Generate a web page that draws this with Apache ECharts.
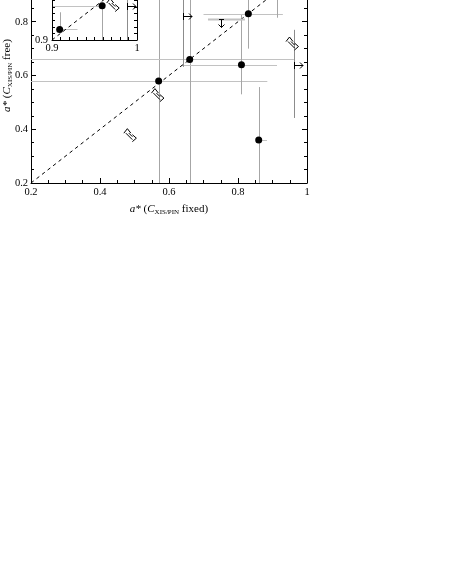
<!DOCTYPE html>
<html><head><meta charset="utf-8">
<script src="https://cdn.jsdelivr.net/npm/echarts@6/dist/echarts.min.js"></script>
<style>html,body{margin:0;padding:0;background:#fff}#c{width:450px;height:583px}</style>
</head><body><div id="c"></div>
<script>
// ---- data (main panel) ----
const mainPoints = [[0.57,0.58],[0.66,0.66],[0.81,0.64],[0.83,0.83],[0.86,0.36]];
const mainXErr   = [[0.20,0.885],[0.20,0.962],[0.635,0.913],[0.70,0.93],[0.855,0.884]];
const mainYErr   = [[0.20,1.00],[0.20,1.00],[0.53,0.826],[0.70,0.96],[0.20,0.557]];
const mainExtraVErr = [[0.913,0.815,1.00]];
const mainRightLimits = [[0.64,0.822],[0.962,0.64]];
const mainRightLimitYErr = [[0.632,1.00],[0.442,0.77]];
const mainDownLimits = [[0.751,0.811]];
const mainDownLimitXErr = [[0.713,0.82]];
const mainDiagLimits = [[0.488,0.378],[0.568,0.527],[0.958,0.719]];
const mainTicks = [0.2,0.4,0.6,0.8,1.0];
const diagLine = [[0.2,0.2],[1.0,1.0]];
// ---- data (inset) ----
const insetPoints = [[0.909,0.916],[0.959,0.952]];
const insetXErr   = [[0.909,0.930],[0.900,0.959]];
const insetYErr   = [[0.916,0.942],[0.900,0.952]];
const insetRightLimits = [[0.988,0.952]];
const insetRightLimitYErr = [[0.900,1.000]];
const insetDiagLimits = [[0.972,0.953]];
const insetTicks = [0.9,1.0];
const insetDiagLine = [[0.9,0.9],[1.0,1.0]];

const FONT = 'Liberation Serif';
const H_COLOR = '#c2c2c2', V_COLOR = '#a6a6a6', L_COLOR = '#8c8c8c';
const px = v => Math.round(v) + 0.5;

function errRender(params, api) {
  const c = api.coord([api.value(0), api.value(1)]);
  const xl = api.coord([api.value(2), api.value(1)]);
  const xh = api.coord([api.value(3), api.value(1)]);
  const yl = api.coord([api.value(0), api.value(4)]);
  const yh = api.coord([api.value(0), api.value(5)]);
  return {type:'group', children:[
    {type:'line', shape:{x1:xl[0],y1:px(c[1]),x2:xh[0],y2:px(c[1])}, style:{stroke:H_COLOR,lineWidth:1}},
    {type:'line', shape:{x1:px(c[0]),y1:yl[1],x2:px(c[0]),y2:yh[1]}, style:{stroke:V_COLOR,lineWidth:1}}
  ]};
}
function vSegRender(params, api) {
  const a = api.coord([api.value(0), api.value(1)]);
  const b = api.coord([api.value(0), api.value(2)]);
  return {type:'line', shape:{x1:px(a[0]),y1:a[1],x2:px(a[0]),y2:b[1]}, style:{stroke:V_COLOR,lineWidth:1}};
}
function rightLimRender(params, api) {
  const c = api.coord([api.value(0), api.value(1)]);
  const yl = api.coord([api.value(0), api.value(2)]);
  const yh = api.coord([api.value(0), api.value(3)]);
  const x = px(c[0]), y = px(c[1]);
  const s = {stroke:'#000', lineWidth:1, fill:null};
  return {type:'group', children:[
    {type:'line', shape:{x1:x,y1:yl[1],x2:x,y2:yh[1]}, style:{stroke:L_COLOR,lineWidth:1}},
    {type:'line', shape:{x1:x,y1:y-3.5,x2:x,y2:y+3.5}, style:s},
    {type:'line', shape:{x1:x,y1:y,x2:x+8.5,y2:y}, style:s},
    {type:'polyline', shape:{points:[[x+5.5,y-3],[x+8.5,y],[x+5.5,y+3]]}, style:s}
  ]};
}
function downLimRender(params, api) {
  const c = api.coord([api.value(0), api.value(1)]);
  const xl = api.coord([api.value(2), api.value(1)]);
  const xh = api.coord([api.value(3), api.value(1)]);
  const x = px(c[0]), y = px(c[1]);
  const s = {stroke:'#000', lineWidth:1, fill:null};
  return {type:'group', children:[
    {type:'line', shape:{x1:xl[0],y1:y,x2:xh[0],y2:y}, style:{stroke:H_COLOR,lineWidth:2}},
    {type:'line', shape:{x1:x-2.5,y1:y,x2:x+2.5,y2:y}, style:s},
    {type:'line', shape:{x1:x,y1:y,x2:x,y2:y+8}, style:s},
    {type:'polyline', shape:{points:[[x-3,y+5],[x,y+8],[x+3,y+5]]}, style:s}
  ]};
}
function diagRender(params, api) {
  const c = api.coord([api.value(0), api.value(1)]);
  const x = c[0], y = c[1];
  const s = {stroke:'#000', lineWidth:1, fill:null};
  const P = pts => pts.map(p => [x+p[0], y+p[1]]);
  return {type:'group', children:[
    {type:'polyline', shape:{points:P([[-6.5,-2],[-3,-6.5],[0.5,-2]])}, style:s},
    {type:'polyline', shape:{points:P([[2,-0.5],[6,3],[2,6.5]])}, style:s},
    {type:'line', shape:{x1:x-1.5,y1:y-2,x2:x+2,y2:y+1.5}, style:s},
    {type:'line', shape:{x1:x-4.5,y1:y-2,x2:x+2,y2:y+4.5}, style:s}
  ]};
}

const mainErrData = mainPoints.map((p,i)=>[p[0],p[1],mainXErr[i][0],mainXErr[i][1],mainYErr[i][0],mainYErr[i][1]]);
const mainRLData = mainRightLimits.map((p,i)=>[p[0],p[1],mainRightLimitYErr[i][0],mainRightLimitYErr[i][1]]);
const mainDLData = mainDownLimits.map((p,i)=>[p[0],p[1],mainDownLimitXErr[i][0],mainDownLimitXErr[i][1]]);
const insetErrData = insetPoints.map((p,i)=>[p[0],p[1],insetXErr[i][0],insetXErr[i][1],insetYErr[i][0],insetYErr[i][1]]);
const insetRLData = insetRightLimits.map((p,i)=>[p[0],p[1],insetRightLimitYErr[i][0],insetRightLimitYErr[i][1]]);

const fmt = v => Math.abs(v-1) < 1e-9 ? '1' : v.toFixed(1);
const labelStyle = {fontFamily:FONT, fontSize:10.5, color:'#000'};
const nameRich = {
  i:{fontFamily:FONT, fontSize:11, fontStyle:'italic', color:'#000'},
  n:{fontFamily:FONT, fontSize:11, color:'#000'},
  s:{fontFamily:FONT, fontSize:7, color:'#000', verticalAlign:'bottom', lineHeight:13}
};

function axisBase(extra) {
  return Object.assign({
    type:'value', splitLine:{show:false}, minorSplitLine:{show:false},
    axisLine:{show:true, onZero:false, lineStyle:{color:'#000', width:1}},
    axisTick:{show:true, inside:true, length:5, lineStyle:{color:'#000'}},
    minorTick:{show:true, length:3, lineStyle:{color:'#000'}}
  }, extra);
}
const mainAxisRange = {min:mainTicks[0], max:mainTicks[mainTicks.length-1], interval:mainTicks[1]-mainTicks[0]};
const insetAxisRange = {min:insetTicks[0], max:insetTicks[1], interval:insetTicks[1]-insetTicks[0]};

const option = {
  animation:false,
  backgroundColor:'#fff',
  grid:[
    {left:31, top:-32, width:276, height:215, show:false, outerBoundsMode:'none', containLabel:false},
    {left:52, top:-26, width:85, height:66, show:true, backgroundColor:'#fff', borderWidth:0, z:10,
     outerBoundsMode:'none', containLabel:false}
  ],
  xAxis:[
    axisBase(Object.assign({gridIndex:0, position:'bottom',
      minorTick:{show:true, splitNumber:4, length:3, lineStyle:{color:'#000'}},
      axisLabel:Object.assign({margin:4, formatter:fmt}, labelStyle),
      name:'{i|a*}{n| (}{i|C}{s|XIS/PIN}{n| fixed)}', nameLocation:'middle', nameGap:20, nameMoveOverlap:false,
      nameTextStyle:{rich:nameRich}}, mainAxisRange)),
    axisBase(Object.assign({gridIndex:0, position:'top', axisLabel:{show:false},
      minorTick:{show:true, splitNumber:4, length:3, lineStyle:{color:'#000'}}}, mainAxisRange)),
    axisBase(Object.assign({gridIndex:1, position:'bottom', z:13,
      minorTick:{show:true, splitNumber:10, length:3, lineStyle:{color:'#000'}},
      axisLabel:Object.assign({margin:3, formatter:fmt}, labelStyle)}, insetAxisRange)),
    axisBase(Object.assign({gridIndex:1, position:'top', z:13, axisLabel:{show:false},
      minorTick:{show:true, splitNumber:10, length:3, lineStyle:{color:'#000'}}}, insetAxisRange))
  ],
  yAxis:[
    axisBase(Object.assign({gridIndex:0, position:'left',
      minorTick:{show:true, splitNumber:4, length:3, lineStyle:{color:'#000'}},
      axisLabel:Object.assign({margin:3, formatter:fmt}, labelStyle),
      name:'{i|a*}{n| (}{i|C}{s|XIS/PIN}{n| free)}', nameLocation:'middle', nameGap:17, nameMoveOverlap:false,
      nameTextStyle:{rich:nameRich}}, mainAxisRange)),
    axisBase(Object.assign({gridIndex:0, position:'right', axisLabel:{show:false},
      minorTick:{show:true, splitNumber:4, length:3, lineStyle:{color:'#000'}}}, mainAxisRange)),
    axisBase(Object.assign({gridIndex:1, position:'left', z:13,
      minorTick:{show:true, splitNumber:10, length:3, lineStyle:{color:'#000'}},
      axisLabel:Object.assign({margin:4, formatter:v => v < 0.95 ? '0.9' : ''}, labelStyle)}, insetAxisRange)),
    axisBase(Object.assign({gridIndex:1, position:'right', z:13, axisLabel:{show:false},
      minorTick:{show:true, splitNumber:10, length:3, lineStyle:{color:'#000'}}}, insetAxisRange))
  ],
  series:[
    // main panel
    {type:'line', xAxisIndex:0, yAxisIndex:0, data:diagLine, showSymbol:false, symbol:'none', silent:true,
     lineStyle:{color:'#000', width:1, type:[3.5,3.5]}, z:3},
    {type:'custom', xAxisIndex:0, yAxisIndex:0, data:mainErrData, renderItem:errRender, encode:{x:[0,2,3], y:[1,4,5]}, z:2},
    {type:'custom', xAxisIndex:0, yAxisIndex:0, data:mainExtraVErr, renderItem:vSegRender, encode:{x:[0], y:[1,2]}, z:2},
    {type:'custom', xAxisIndex:0, yAxisIndex:0, data:mainRLData, renderItem:rightLimRender, encode:{x:[0], y:[1,2,3]}, z:4},
    {type:'custom', xAxisIndex:0, yAxisIndex:0, data:mainDLData, renderItem:downLimRender, encode:{x:[0,2,3], y:[1]}, z:4},
    {type:'custom', xAxisIndex:0, yAxisIndex:0, data:mainDiagLimits, renderItem:diagRender, encode:{x:[0], y:[1]}, z:4},
    {type:'scatter', xAxisIndex:0, yAxisIndex:0, data:mainPoints, symbol:'circle', symbolSize:7,
     itemStyle:{color:'#000', opacity:1}, z:5},
    // inset
    {type:'line', xAxisIndex:2, yAxisIndex:2, data:insetDiagLine, showSymbol:false, symbol:'none', silent:true,
     lineStyle:{color:'#000', width:1, type:[3.5,3.5]}, z:12},
    {type:'custom', xAxisIndex:2, yAxisIndex:2, data:insetErrData, renderItem:errRender, encode:{x:[0,2,3], y:[1,4,5]}, z:11},
    {type:'custom', xAxisIndex:2, yAxisIndex:2, data:insetRLData, renderItem:rightLimRender, encode:{x:[0], y:[1,2,3]}, z:12},
    {type:'custom', xAxisIndex:2, yAxisIndex:2, data:insetDiagLimits, renderItem:diagRender, encode:{x:[0], y:[1]}, z:12},
    {type:'scatter', xAxisIndex:2, yAxisIndex:2, data:insetPoints, symbol:'circle', symbolSize:7,
     itemStyle:{color:'#000', opacity:1}, z:14}
  ]
};
const chart = echarts.init(document.getElementById('c'), null, {renderer:'canvas'});
chart.setOption(option);
</script></body></html>
